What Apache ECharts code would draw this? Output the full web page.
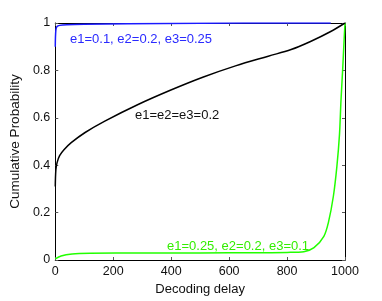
<!DOCTYPE html>
<html>
<head>
<meta charset="utf-8">
<script src="https://cdn.jsdelivr.net/npm/echarts@6/dist/echarts.min.js"></script>
<style>
html,body{margin:0;padding:0;background:#fff;}
#chart{width:382px;height:301px;}
</style>
</head>
<body>
<div id="chart"></div>
<script>
// Data
var xTicks = [0, 200, 400, 600, 800, 1000];
var yTicks = [0, 0.2, 0.4, 0.6, 0.8, 1];

var blueDelay = [0, 2, 6, 15, 40, 100, 250, 500, 800, 951];
var blueProb  = [0.9, 0.97, 0.985, 0.99, 0.993, 0.995, 0.997, 0.999, 1.0, 1.0];
var blueLabel = 'e1=0.1, e2=0.2, e3=0.25';

var blackDelay = [0, 2, 6, 15, 30, 55, 103, 171, 284, 397, 509, 622, 735, 814, 881, 949, 1000];
var blackProb  = [0.31, 0.38, 0.41, 0.44, 0.465, 0.495, 0.538, 0.586, 0.655, 0.716, 0.771, 0.819, 0.86, 0.888, 0.922, 0.963, 1.0];
var blackLabel = 'e1=e2=e3=0.2';

var greenDelay = [0, 20, 58, 120, 300, 500, 700, 800, 858, 893, 927, 943, 960, 972, 981, 986, 992, 997, 1000];
var greenProb  = [0.005, 0.017, 0.025, 0.028, 0.03, 0.03, 0.031, 0.032, 0.035, 0.052, 0.10, 0.16, 0.27, 0.395, 0.53, 0.67, 0.805, 0.93, 1.0];
var greenLabel = 'e1=0.25, e2=0.2, e3=0.1';

var xName = 'Decoding delay';
var yName = 'Cumulative Probability';

function pairs(xs, ys){ return xs.map(function(x,i){ return [x, ys[i]]; }); }

var FONT = 'Liberation Sans, Arial, Helvetica, sans-serif';
var chart = echarts.init(document.getElementById('chart'), null, {renderer:'canvas'});

function axisCommon(show){
  return {
    axisLine:{show:true, onZero:false, lineStyle:{color:'#000', width:1}},
    axisTick:{show:true, inside:true, length:3, lineStyle:{color:'#555', width:1}},
    splitLine:{show:false},
    axisLabel:{show:show, color:'#111', fontSize:12.5, fontFamily:FONT}
  };
}

var option = {
  animation:false,
  backgroundColor:'#fff',
  grid:{left:50, right:37, top:23, bottom:35, containLabel:false},
  xAxis:[
    Object.assign(axisCommon(true), {
      type:'value', min:0, max:1000, interval:200, position:'bottom',
      name:xName, nameLocation:'middle', nameGap:23,
      nameTextStyle:{color:'#111', fontSize:13, fontFamily:FONT},
      axisLabel:{show:true, color:'#111', fontSize:12.5, fontFamily:FONT, margin:5,
        formatter:function(v){ return String(v); }}
    }),
    Object.assign(axisCommon(false), {type:'value', min:0, max:1000, interval:200, position:'top'})
  ],
  yAxis:[
    Object.assign(axisCommon(true), {
      type:'value', min:0, max:1, interval:0.2, position:'left',
      name:yName, nameLocation:'middle', nameGap:28,
      nameTextStyle:{color:'#111', fontSize:13.5, fontFamily:FONT},
      axisLabel:{show:true, color:'#111', fontSize:12.5, fontFamily:FONT, margin:5,
        formatter:function(v){ return String(Math.round(v*10)/10); }}
    }),
    Object.assign(axisCommon(false), {type:'value', min:0, max:1, interval:0.2, position:'right'})
  ],
  series:[
    {type:'line', xAxisIndex:0, yAxisIndex:0, data:pairs(greenDelay, greenProb), showSymbol:false,
      smooth:0.3, lineStyle:{color:'#22ff00', width:1.5}, z:3},
    {type:'line', xAxisIndex:0, yAxisIndex:0, data:pairs(blackDelay, blackProb), showSymbol:false,
      smooth:0.35, lineStyle:{color:'#000', width:1.5}, z:4},
    {type:'line', xAxisIndex:0, yAxisIndex:0, data:pairs(blueDelay, blueProb), showSymbol:false,
      smooth:0.35, lineStyle:{color:'#1a1aff', width:1.5}, z:5}
  ],
  graphic:[
    {type:'text', left:70, top:33, style:{text:blueLabel, fill:'#2a2aff', fontSize:13, fontFamily:FONT}},
    {type:'text', left:135, top:109, style:{text:blackLabel, fill:'#111', fontSize:13, fontFamily:FONT}},
    {type:'text', left:167, top:240, style:{text:greenLabel, fill:'#33ee00', fontSize:13, fontFamily:FONT}}
  ]
};
chart.setOption(option);
</script>
</body>
</html>
